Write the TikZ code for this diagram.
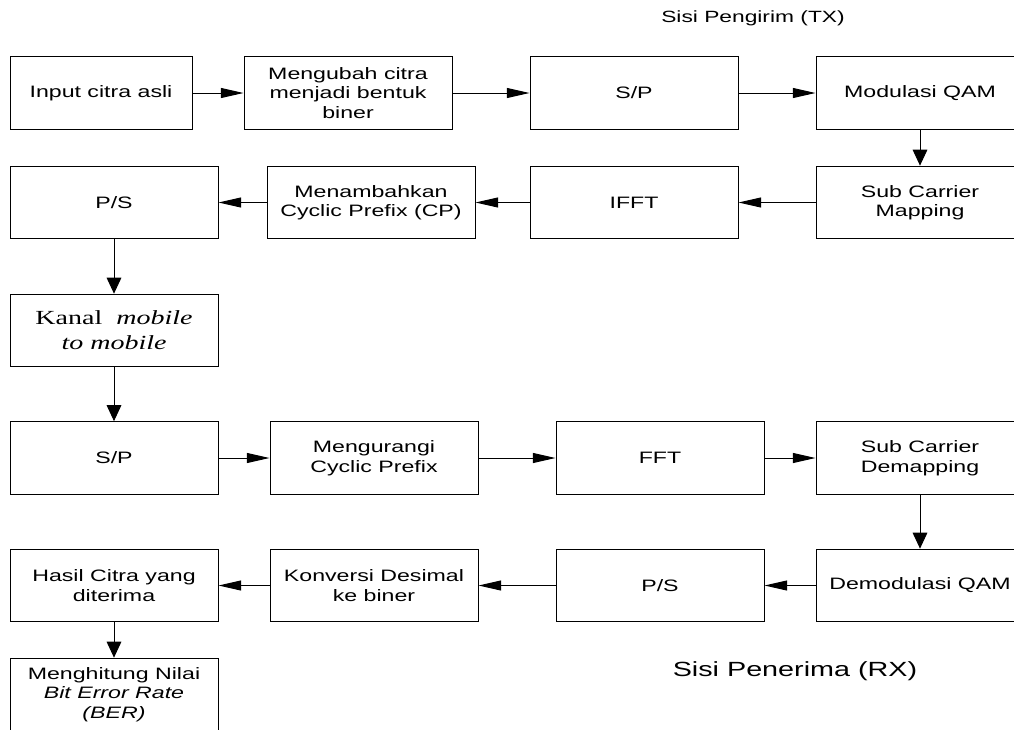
\documentclass[tikz,border=0pt]{standalone}
\usepackage{fontspec}
\setmainfont[FakeStretch=1.4]{Liberation Sans}
\newfontfamily\kanalfont[FakeStretch=1.4]{Liberation Serif}
\usetikzlibrary{arrows.meta}

\begin{document}
\begin{tikzpicture}[x=0.75pt,y=-0.75pt,
  blok/.style={draw,line width=0.75pt,minimum width=156pt,minimum height=54.5pt,inner sep=0pt,align=center,
    font=\fontsize{12.4}{14.6}\selectfont},
  harr/.style={-{Triangle[length=17pt,width=7.5pt]},line width=0.75pt},
  varr/.style={-{Triangle[length=12pt,width=11pt]},line width=0.75pt}]
\useasboundingbox (0,0) rectangle (1014,729);
% sisi pengirim
\node [blok,minimum width=136.5pt] (Tinput) at (101,93) {Input citra asli};
\node [blok] (Tbiner) at (348,93) {Mengubah citra\\menjadi bentuk\\biner};
\node [blok] (Tsp) at (634,93) {S/P};
\node [blok] (Tqam) at (920,93) {Modulasi QAM};
\node [blok] (Tmap) at (920,202.5) {Sub Carrier\\Mapping};
\node [blok] (Tifft) at (634,202.5) {IFFT};
\node [blok] (Tcp) at (371,202.5) {Menambahkan\\Cyclic Prefix (CP)};
\node [blok] (Tps) at (114,202.5) {P/S};
% kanal
\node [blok,font=\kanalfont\fontsize{15}{18.75}\selectfont] (Kanal) at (114,330.5) {Kanal\ \ \textit{mobile}\\\textit{to mobile}};
% sisi penerima
\node [blok] (Rsp) at (114,458) {S/P};
\node [blok] (Rcp) at (374,458) {Mengurangi\\Cyclic Prefix};
\node [blok] (Rfft) at (660,458) {FFT};
\node [blok] (Rdemap) at (920,458) {Sub Carrier\\Demapping};
\node [blok] (Rqam) at (920,585.5) {Demodulasi QAM};
\node [blok] (Rps) at (660,585.5) {P/S};
\node [blok] (Rbin) at (374,585.5) {Konversi Desimal\\ke biner};
\node [blok] (Rhasil) at (114,585.5) {Hasil Citra yang\\diterima};
\node [blok] (Rber) at (114,694.5) {Menghitung Nilai\\\textit{Bit Error Rate}\\\textit{(BER)}};
\node [font=\fontsize{12.2}{14.6}\selectfont] (TX) at (753,18) {Sisi Pengirim (TX)};
\node [font=\fontsize{15.4}{18}\selectfont] (RX) at (795,671) {Sisi Penerima (RX)};

\draw [harr] (Tinput) -- (Tbiner);
\draw [harr] (Tbiner) -- (Tsp);
\draw [harr] (Tsp) -- (Tqam);
\draw [varr] (Tqam) -- (Tmap);
\draw [harr] (Tmap) -- (Tifft);
\draw [harr] (Tifft) -- (Tcp);
\draw [harr] (Tcp) -- (Tps);
\draw [varr] (Tps) -- (Kanal);
\draw [varr] (Kanal) -- (Rsp);
\draw [harr] (Rsp) -- (Rcp);
\draw [harr] (Rcp) -- (Rfft);
\draw [harr] (Rfft) -- (Rdemap);
\draw [varr] (Rdemap) -- (Rqam);
\draw [harr] (Rqam) -- (Rps);
\draw [harr] (Rps) -- (Rbin);
\draw [harr] (Rbin) -- (Rhasil);
\draw [varr] (Rhasil) -- (Rber);
\end{tikzpicture}
\end{document}
